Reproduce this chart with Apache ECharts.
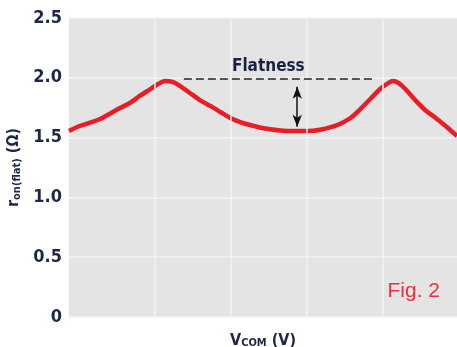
<!DOCTYPE html>
<html>
<head>
<meta charset="utf-8">
<script src="https://cdn.jsdelivr.net/npm/echarts@6/dist/echarts.min.js"></script>
<style>
  html, body { margin: 0; padding: 0; background: #ffffff; }
  #chart { width: 457px; height: 347px; }
</style>
</head>
<body>
<div id="chart"></div>
<script>
// On-resistance vs. common-mode voltage (one sweep)
const vcom = [-0.13, 0.01, 0.28, 0.54, 0.67, 0.80, 0.94, 1.04, 1.13, 1.23, 1.33, 1.46, 1.59, 1.73,
  1.86, 1.99, 2.12, 2.25, 2.38, 2.51, 2.65, 2.78, 2.91, 3.08, 3.17, 3.30, 3.43, 3.57, 3.70, 3.83,
  3.96, 4.07, 4.13, 4.20, 4.29, 4.42, 4.55, 4.69, 4.82, 4.97];
const ron = [1.555, 1.597, 1.656, 1.747, 1.789, 1.848, 1.906, 1.948, 1.973, 1.965, 1.931, 1.873,
  1.814, 1.764, 1.714, 1.664, 1.630, 1.605, 1.585, 1.570, 1.560, 1.555, 1.555, 1.557, 1.565, 1.585,
  1.614, 1.664, 1.739, 1.823, 1.906, 1.957, 1.973, 1.957, 1.906, 1.814, 1.731, 1.664, 1.597, 1.513];

// Vertical grid positions and y ticks
const xGrid = [1, 2, 3, 4];
const yTicks = [0, 0.5, 1.0, 1.5, 2.0, 2.5];

// Flatness annotation: reference level, extent, arrow and caption position
const flatLevel = 1.99;
const flatStart = 1.38;
const flatEnd = 3.90;
const arrowX = 2.87;
const arrowTop = 1.925;
const arrowBottom = 1.59;
const flatLabel = 'Flatness';
const flatLabelAt = [2.49, 2.09];

const tickColor = '#1d2746';
const font = '"Liberation Sans Narrow", "DejaVu Sans Condensed", "Liberation Sans", sans-serif';

const chart = echarts.init(document.getElementById('chart'));
chart.setOption({
  backgroundColor: '#ffffff',
  animation: false,
  grid: {
    left: 69, right: 0, top: 18, bottom: 30,
    outerBoundsMode: 'none',
    show: true, backgroundColor: '#e4e4e4', borderWidth: 0
  },
  xAxis: {
    type: 'value',
    min: vcom[0],
    max: vcom[vcom.length - 1],
    axisLine: { show: false },
    axisTick: { show: false },
    axisLabel: { show: false },
    splitLine: { show: false },
    name: 'V{sub|COM} (V)',
    nameLocation: 'middle',
    nameGap: 15,
    nameTextStyle: {
      fontFamily: font, fontWeight: 'bold', fontSize: 16, color: tickColor,
      rich: { sub: { fontFamily: font, fontWeight: 'bold', fontSize: 11, color: tickColor, padding: [6, 0, 0, 0] } }
    }
  },
  yAxis: {
    type: 'value',
    min: 0,
    max: 2.5,
    interval: 0.5,
    axisLine: { show: false },
    axisTick: { show: false },
    axisLabel: {
      margin: 7,
      fontFamily: font, fontWeight: 'bold', fontSize: 18, color: tickColor,
      formatter: v => (v === 0 ? '0' : v.toFixed(1))
    },
    splitLine: { show: true, lineStyle: { color: '#f3f3f3', width: 1.5 } },
    name: 'r{sub|on(flat)} (Ω)',
    nameLocation: 'middle',
    nameRotate: 90,
    nameGap: 46,
    nameTextStyle: {
      fontFamily: font, fontWeight: 'bold', fontSize: 16, color: tickColor,
      rich: { sub: { fontFamily: font, fontWeight: 'bold', fontSize: 11, color: tickColor, padding: [6, 0, 0, 0] } }
    }
  },
  series: [
    {
      type: 'line',
      data: vcom.map((x, i) => [x, ron[i]]),
      smooth: 0.3,
      symbol: 'none',
      z: 3,
      lineStyle: { color: '#ea1c26', width: 4.5 },
      markLine: {
        silent: true,
        symbol: 'none',
        label: { show: false },
        lineStyle: { color: '#f3f3f3', width: 1.5, type: 'solid' },
        data: xGrid.map(x => ({ xAxis: x }))
      }
    },
    {
      type: 'scatter',
      data: [flatLabelAt],
      symbolSize: 2,
      z: 4,
      silent: true,
      itemStyle: { color: '#e4e4e4', opacity: 1 },
      labelLayout: { hideOverlap: false },
      label: {
        show: true,
        position: 'inside',
        formatter: flatLabel,
        opacity: 1,
        textBorderWidth: 0,
        fontFamily: font, fontWeight: 'bold', fontSize: 17, color: '#1a2240'
      },
      markLine: {
        silent: true,
        label: { show: false },
        data: [
          [
            { coord: [flatStart, flatLevel], symbol: 'none', lineStyle: { color: '#222222', width: 1.5, type: [8, 4] } },
            { coord: [flatEnd, flatLevel], symbol: 'none' }
          ],
          [
            { coord: [arrowX, arrowTop], symbol: 'arrow', symbolSize: [7, 12], lineStyle: { color: '#111111', width: 1.5, type: 'solid' } },
            { coord: [arrowX, arrowBottom], symbol: 'arrow', symbolSize: [7, 12] }
          ]
        ]
      }
    }
  ],
  graphic: [
    {
      type: 'text',
      right: 17,
      top: 281,
      style: { text: 'Fig. 2', fontFamily: '"Liberation Sans", Arial, sans-serif', fontSize: 21, fill: '#ec2f3a' }
    }
  ]
});
</script>
</body>
</html>
